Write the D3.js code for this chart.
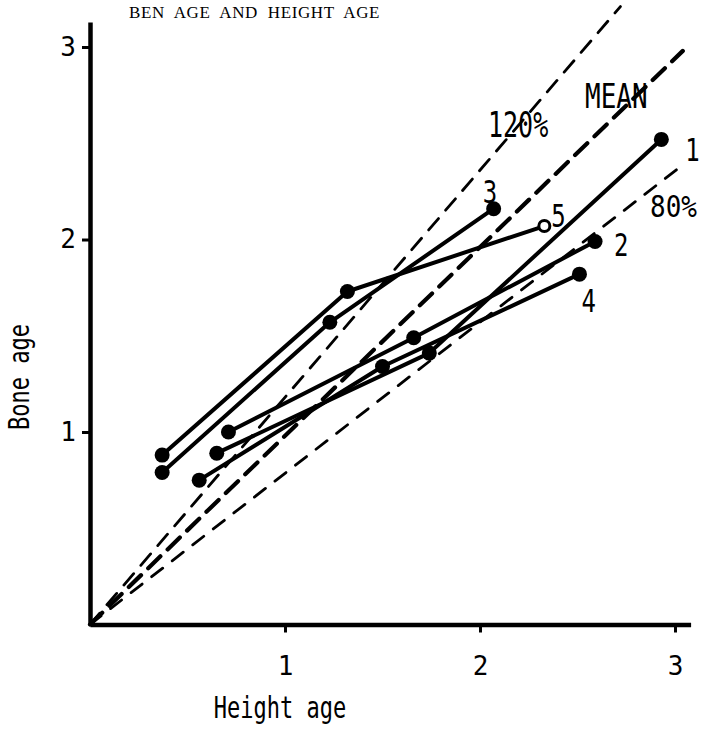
<!doctype html>
<html>
  <head>
    <meta charset="utf-8">
    <script src="https://cdn.jsdelivr.net/npm/d3@7/dist/d3.min.js"></script>
    <style>
      body { margin: 0; background: #fff; }
      svg { display: block; }
      .mono { font-family: "DejaVu Sans Mono", monospace; fill: #000; }
    </style>
  </head>
  <body>
    <svg width="707" height="731"></svg>
    <script>
      // values
      const tickValues = [1, 2, 3];
      const seriesNames = ["1", "2", "3", "4", "5"];
      const heightAge = [
        [0.65, 1.74, 2.93],
        [0.71, 1.66, 2.59],
        [0.37, 1.23, 2.07],
        [0.56, 1.50, 2.51],
        [0.37, 1.32, 2.33]
      ];
      const boneAge = [
        [0.89, 1.41, 2.52],
        [1.00, 1.49, 1.99],
        [0.79, 1.57, 2.16],
        [0.75, 1.34, 1.82],
        [0.88, 1.73, 2.07]
      ];
      const refNames = ["MEAN", "120%", "80%"];
      const refEndX = [3.04, 2.72, 3.03];
      const refEndY = [2.98, 3.21, 2.38];

      const svg = d3.select("svg");
      const x = d3.scaleLinear().domain([0, 3.08]).range([90, 690.6]);
      const y = d3.scaleLinear().domain([0, 3.13]).range([624.5, 22]);

      // title
      svg.append("text")
        .attr("x", 129).attr("y", 18)
        .style("font-family", "'Liberation Serif', serif")
        .style("font-size", "17px")
        .style("letter-spacing", "0.6px")
        .style("word-spacing", "5px")
        .text("BEN AGE AND HEIGHT AGE");

      // dashed reference lines
      const dashes = ["17,10", "15,11", "14,12"];
      const widths = [4.2, 2.8, 2.8];
      const line = d3.line().x(d => x(d[0])).y(d => y(d[1]));
      refNames.forEach((n, i) => {
        svg.append("path")
          .attr("d", line([[0, 0], [refEndX[i], refEndY[i]]]))
          .style("fill", "none")
          .style("stroke", "#000")
          .style("stroke-width", widths[i])
          .style("stroke-dasharray", dashes[i])
          .style("stroke-linecap", "round");
      });

      // series
      seriesNames.forEach((n, i) => {
        const pts = heightAge[i].map((h, j) => [h, boneAge[i][j]]);
        svg.append("path")
          .attr("d", line(pts))
          .style("fill", "none")
          .style("stroke", "#000")
          .style("stroke-width", 4)
          .style("stroke-linejoin", "round")
          .style("stroke-linecap", "round");
        svg.selectAll(null)
          .data(pts)
          .enter()
          .append("circle")
          .attr("cx", d => x(d[0]))
          .attr("cy", d => y(d[1]))
          .attr("r", (d, j) => (n === "5" && j === 2) ? 5.5 : 7.5)
          .style("fill", (d, j) => (n === "5" && j === 2) ? "#fff" : "#000")
          .style("stroke", "#000")
          .style("stroke-width", (d, j) => (n === "5" && j === 2) ? 3 : 0);
      });

      // axes
      const xAxis = svg.append("g")
        .attr("transform", "translate(0," + y(0) + ")")
        .call(d3.axisBottom(x).tickValues(tickValues).tickSize(8).tickSizeOuter(0).tickPadding(24).tickFormat(d3.format("d")));
      const yAxis = svg.append("g")
        .attr("transform", "translate(" + x(0) + ",0)")
        .call(d3.axisLeft(y).tickValues(tickValues).tickSize(8).tickSizeOuter(0).tickPadding(6).tickFormat(d3.format("d")));

      [xAxis, yAxis].forEach(a => {
        a.select(".domain").style("stroke", "#000").style("stroke-width", 4.5);
        a.selectAll(".tick line").style("stroke", "#000").style("stroke-width", 3);
        a.selectAll(".tick text")
          .attr("class", "mono")
          .style("font-size", "26px")
          .style("fill", "#000");
      });

      // text labels
      function label(txt, tx, ty, size, sy, anchor) {
        svg.append("text")
          .attr("class", "mono")
          .attr("transform", "translate(" + tx + "," + ty + ") scale(1," + sy + ")")
          .style("font-size", size + "px")
          .style("text-anchor", anchor || "start")
          .text(txt);
      }

      const offs = [[24, 22], [19, 15], [-11, -6], [2, 38], [7, 1]];
      seriesNames.forEach((n, i) => {
        label(n, x(heightAge[i][2]) + offs[i][0], y(boneAge[i][2]) + offs[i][1], 24, 1.3);
      });

      label("MEAN", 585, 108, 26, 1.3);
      label("120%", 488, 137, 25, 1.4);
      label("80%", 650, 217, 26, 1.15);

      label("Height age", 280, 718, 22, 1.35, "middle");

      svg.append("text")
        .attr("class", "mono")
        .attr("transform", "translate(29,377) rotate(-90) scale(1,1.25)")
        .style("font-size", "22px")
        .style("text-anchor", "middle")
        .text("Bone age");
    </script>
  </body>
</html>
